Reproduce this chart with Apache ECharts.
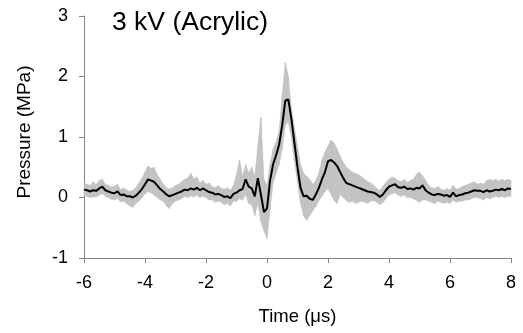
<!DOCTYPE html>
<html>
<head>
<meta charset="utf-8">
<script src="https://cdn.jsdelivr.net/npm/echarts@6/dist/echarts.min.js"></script>
<style>html,body{margin:0;padding:0;background:#fff;}#c{width:523px;height:333px;}</style>
</head>
<body>
<div id="c"></div>
<script>
// sampling grid (µs)
const tStart = -6, tStep = 0.1;
const xTicks = [-6, -4, -2, 0, 2, 4, 6, 8];
const yTicks = [-1, 0, 1, 2, 3];

// mean pressure (MPa)
const meanP = [
 0.13,0.12,0.10,0.12,0.11,0.15,0.18,0.12,0.10,0.08,
 0.07,0.10,0.04,0.05,0.02,0.02,0.00,0.03,0.08,0.14,
 0.22,0.30,0.28,0.26,0.20,0.14,0.10,0.05,0.02,0.04,
 0.06,0.08,0.10,0.13,0.12,0.15,0.13,0.16,0.12,0.15,
 0.12,0.09,0.08,0.05,0.06,0.04,0.01,0.02,-0.01,0.06,
 0.08,0.12,0.14,0.30,0.18,0.15,0.02,0.32,0.05,-0.24,
 -0.18,0.28,0.55,0.70,0.88,1.20,1.60,1.62,1.30,0.90,
 0.50,0.16,0.02,0.03,-0.02,-0.04,0.05,0.16,0.30,0.42,
 0.60,0.62,0.58,0.52,0.42,0.32,0.24,0.22,0.20,0.18,
 0.16,0.14,0.12,0.10,0.09,0.08,0.05,0.01,0.05,0.12,
 0.18,0.20,0.22,0.17,0.16,0.18,0.14,0.15,0.13,0.16,
 0.15,0.20,0.12,0.08,0.05,0.04,0.06,0.05,0.03,0.04,
 0.01,0.08,0.02,0.04,0.05,0.07,0.08,0.10,0.12,0.11,
 0.11,0.09,0.12,0.10,0.11,0.13,0.12,0.14,0.12,0.15,
 0.14
];
// upper edge of the shot-to-shot spread (MPa)
const upperP = [
 0.24,0.22,0.20,0.26,0.21,0.28,0.30,0.22,0.20,0.17,
 0.19,0.22,0.13,0.16,0.12,0.10,0.12,0.16,0.24,0.32,
 0.42,0.52,0.48,0.50,0.38,0.30,0.22,0.16,0.14,0.16,
 0.20,0.22,0.26,0.30,0.32,0.40,0.30,0.34,0.24,0.28,
 0.22,0.24,0.18,0.16,0.20,0.15,0.14,0.16,0.12,0.20,
 0.38,0.62,0.35,0.55,0.40,0.50,0.35,0.85,1.33,0.30,
 0.20,0.55,0.80,0.92,1.10,1.70,2.24,2.00,1.45,1.15,
 0.85,0.55,0.40,0.35,0.30,0.22,0.28,0.40,0.62,0.75,
 0.85,0.95,0.90,0.80,0.68,0.58,0.50,0.46,0.42,0.40,
 0.38,0.34,0.30,0.26,0.24,0.20,0.15,0.12,0.18,0.25,
 0.30,0.34,0.32,0.28,0.26,0.30,0.25,0.28,0.30,0.38,
 0.42,0.36,0.28,0.20,0.16,0.15,0.18,0.14,0.12,0.15,
 0.12,0.20,0.14,0.15,0.18,0.20,0.22,0.24,0.26,0.22,
 0.24,0.22,0.28,0.30,0.28,0.30,0.27,0.30,0.28,0.30,
 0.28
];
// lower edge of the spread (MPa)
const lowerP = [
 0.04,0.02,0.00,0.01,0.01,0.04,0.06,0.02,0.00,-0.03,
 -0.04,-0.02,-0.07,-0.06,-0.10,-0.14,-0.16,-0.10,-0.06,0.00,
 0.06,0.10,0.08,0.04,0.00,-0.04,-0.06,-0.14,-0.18,-0.10,
 -0.06,-0.04,-0.02,0.02,0.00,0.03,0.01,0.04,0.00,0.02,
 0.00,-0.04,-0.04,-0.08,-0.06,-0.08,-0.12,-0.10,-0.14,-0.06,
 -0.06,-0.02,-0.04,0.05,-0.10,-0.12,-0.30,-0.10,-0.40,-0.55,
 -0.68,-0.20,0.25,0.40,0.55,0.80,1.20,1.25,1.00,0.60,
 0.25,-0.10,-0.30,-0.38,-0.30,-0.22,-0.15,-0.05,0.02,0.10,
 0.15,0.05,-0.05,-0.10,0.05,0.00,-0.05,-0.08,-0.06,-0.10,
 -0.08,-0.06,-0.08,-0.10,-0.06,-0.05,-0.08,-0.12,-0.08,-0.02,
 0.04,0.06,0.08,0.04,0.02,0.04,0.00,0.00,-0.02,-0.05,
 -0.08,-0.04,-0.04,-0.06,-0.08,-0.10,-0.06,-0.08,-0.10,-0.08,
 -0.10,-0.04,-0.08,-0.06,-0.06,-0.04,-0.04,-0.02,0.00,0.00,
 -0.02,-0.04,0.00,-0.02,0.00,0.02,0.00,0.02,0.00,0.02,
 0.02
];

const t = meanP.map((_, i) => +(tStart + i * tStep).toFixed(2));
const meanData = meanP.map((v, i) => [t[i], v]);
const bandData = [];
for (let i = 0; i < t.length - 1; i++) {
  bandData.push([t[i], lowerP[i], upperP[i], t[i + 1], lowerP[i + 1], upperP[i + 1]]);
}

const font = 'Liberation Sans, Arial, sans-serif';
const bandColor = '#c2c2c2';
const chart = echarts.init(document.getElementById('c'), null, {renderer: 'canvas'});
chart.setOption({
  animation: false,
  backgroundColor: '#fff',
  title: {
    text: '3 kV (Acrylic)', left: 112, top: 9, padding: 0,
    textStyle: {fontFamily: font, fontSize: 26.5, fontWeight: 'normal', color: '#000'}
  },
  grid: {left: 84, right: 12, top: 16, bottom: 75, containLabel: false},
  xAxis: {
    type: 'value', min: xTicks[0], max: xTicks[xTicks.length - 1], interval: 2,
    name: 'Time (μs)', nameLocation: 'middle', nameGap: 49,
    nameTextStyle: {fontFamily: font, fontSize: 18.5, color: '#000'},
    axisLine: {onZero: false, lineStyle: {color: '#868686', width: 1}},
    axisTick: {show: true, length: 5, inside: false, lineStyle: {color: '#868686'}},
    axisLabel: {fontFamily: font, fontSize: 18, color: '#000', margin: 16},
    splitLine: {show: false}
  },
  yAxis: {
    type: 'value', min: yTicks[0], max: yTicks[yTicks.length - 1], interval: 1,
    name: 'Pressure (MPa)', nameLocation: 'middle', nameGap: 50, nameRotate: 90,
    nameTextStyle: {fontFamily: font, fontSize: 19, color: '#000', padding: [0, 0, 0, 10]},
    axisLine: {show: true, onZero: false, lineStyle: {color: '#868686', width: 1}},
    axisTick: {show: true, length: 5, inside: false, lineStyle: {color: '#868686'}},
    axisLabel: {fontFamily: font, fontSize: 18, color: '#000', margin: 16},
    splitLine: {show: false}
  },
  series: [
    {
      type: 'custom', data: bandData, silent: true, z: 1,
      encode: {x: [0, 3], y: [1, 2, 4, 5]},
      renderItem: function (params, api) {
        const a = api.coord([api.value(0), api.value(2)]);
        const b = api.coord([api.value(3), api.value(5)]);
        const c = api.coord([api.value(3), api.value(4)]);
        const d = api.coord([api.value(0), api.value(1)]);
        return {
          type: 'polygon',
          shape: {points: [a, b, c, d]},
          style: {fill: bandColor, stroke: bandColor, lineWidth: 0.6}
        };
      }
    },
    {
      type: 'line', data: meanData, symbol: 'none',
      lineStyle: {width: 2, color: '#000'}, z: 3
    }
  ]
});
</script>
</body>
</html>
